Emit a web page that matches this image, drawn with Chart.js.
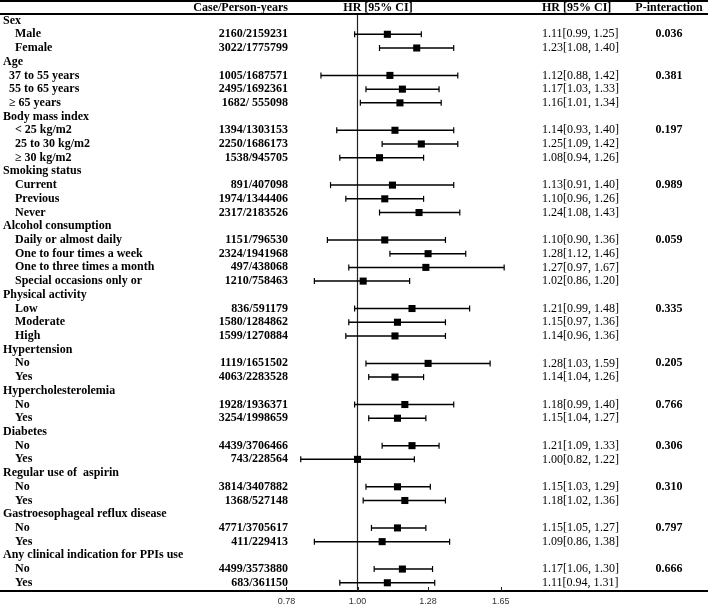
<!DOCTYPE html>
<html>
<head>
<meta charset="utf-8">
<script src="https://cdn.jsdelivr.net/npm/chart.js"></script>
<style>
  body { margin: 0; background: #fff; }
  #wrap { width: 708px; height: 607px; }
</style>
</head>
<body>
<div id="wrap"><canvas id="forest" width="708" height="607"></canvas></div>
<script>
// rows of the table, group headers have no estimate
const labels = [
  "Sex", "    Male", "    Female",
  "Age", "  37 to 55 years", "  55 to 65 years", "  \u2265 65 years",
  "Body mass index", "    < 25 kg/m2", "    25 to 30 kg/m2", "    \u2265 30 kg/m2",
  "Smoking status", "    Current", "    Previous", "    Never",
  "Alcohol consumption", "    Daily or almost daily", "    One to four times a week", "    One to three times a month", "    Special occasions only or",
  "Physical activity", "    Low", "    Moderate", "    High",
  "Hypertension", "    No", "    Yes",
  "Hypercholesterolemia", "    No", "    Yes",
  "Diabetes", "    No", "    Yes",
  "Regular use of  aspirin", "    No", "    Yes",
  "Gastroesophageal reflux disease", "    No", "    Yes",
  "Any clinical indication for PPIs use", "    No", "    Yes"
];
const cases = [
  "", "2160/2159231", "3022/1775799",
  "", "1005/1687571", "2495/1692361", "1682/ 555098",
  "", "1394/1303153", "2250/1686173", "1538/945705",
  "", "891/407098", "1974/1344406", "2317/2183526",
  "", "1151/796530", "2324/1941968", "497/438068", "1210/758463",
  "", "836/591179", "1580/1284862", "1599/1270884",
  "", "1119/1651502", "4063/2283528",
  "", "1928/1936371", "3254/1998659",
  "", "4439/3706466", "743/228564",
  "", "3814/3407882", "1368/527148",
  "", "4771/3705617", "411/229413",
  "", "4499/3573880", "683/361150"
];
const hr = [
  null, 1.11, 1.23,
  null, 1.12, 1.17, 1.16,
  null, 1.14, 1.25, 1.08,
  null, 1.13, 1.10, 1.24,
  null, 1.10, 1.28, 1.27, 1.02,
  null, 1.21, 1.15, 1.14,
  null, 1.28, 1.14,
  null, 1.18, 1.15,
  null, 1.21, 1.00,
  null, 1.15, 1.18,
  null, 1.15, 1.09,
  null, 1.17, 1.11
];
const lower = [
  null, 0.99, 1.08,
  null, 0.88, 1.03, 1.01,
  null, 0.93, 1.09, 0.94,
  null, 0.91, 0.96, 1.08,
  null, 0.90, 1.12, 0.97, 0.86,
  null, 0.99, 0.97, 0.96,
  null, 1.03, 1.04,
  null, 0.99, 1.04,
  null, 1.09, 0.82,
  null, 1.03, 1.02,
  null, 1.05, 0.86,
  null, 1.06, 0.94
];
const upper = [
  null, 1.25, 1.40,
  null, 1.42, 1.33, 1.34,
  null, 1.40, 1.42, 1.26,
  null, 1.40, 1.26, 1.43,
  null, 1.36, 1.46, 1.67, 1.20,
  null, 1.48, 1.36, 1.36,
  null, 1.59, 1.26,
  null, 1.40, 1.27,
  null, 1.33, 1.22,
  null, 1.29, 1.36,
  null, 1.27, 1.38,
  null, 1.30, 1.31
];
// one p-interaction per group, in group order
const pInteraction = ["0.036", "0.381", "0.197", "0.989", "0.059", "0.335", "0.205", "0.766", "0.306", "0.310", "0.797", "0.666"];
const tickValues = [0.78, 1.00, 1.28, 1.65];

const serif = "'Liberation Serif', 'Times New Roman', serif";

// CI line per row
const ciSets = [];
const caps = [];
const points = [];
hr.forEach((v, i) => {
  if (v == null) return;
  ciSets.push({
    data: [{x: lower[i], y: i}, {x: upper[i], y: i}],
    showLine: true,
    borderColor: '#000',
    borderWidth: 1.5,
    pointRadius: 0
  });
  caps.push({x: lower[i], y: i}, {x: upper[i], y: i});
  points.push({x: v, y: i});
});

const tablePlugin = {
  id: 'forestTable',
  beforeDatasetsDraw(chart) {
    const {ctx, chartArea, scales: {x, y}} = chart;
    const x1 = x.getPixelForValue(1);
    ctx.save();
    ctx.strokeStyle = '#222';
    ctx.lineWidth = 1.2;
    ctx.beginPath();
    ctx.moveTo(x1, y.getPixelForValue(-0.5));
    ctx.lineTo(x1, chartArea.bottom);
    ctx.stroke();
    // small upward ticks on the axis
    ctx.lineWidth = 1;
    tickValues.forEach(t => {
      const px = Math.round(x.getPixelForValue(t)) + 0.5;
      ctx.beginPath();
      ctx.moveTo(px, chartArea.bottom - 4);
      ctx.lineTo(px, chartArea.bottom);
      ctx.stroke();
    });
    ctx.restore();
  },
  afterDraw(chart) {
    const {ctx, scales: {x, y}} = chart;
    const W = chart.width;
    ctx.save();
    ctx.fillStyle = '#000';
    // table rules
    ctx.fillRect(0, 0, W, 2);
    const hy = y.getPixelForValue(-0.5);
    ctx.fillRect(0, Math.round(hy) - 1, W, 2);

    ctx.textBaseline = 'middle';
    const headY = y.getPixelForValue(-1) + 1.5;
    ctx.font = 'bold 12px ' + serif;
    ctx.textAlign = 'right';
    ctx.fillText('Case/Person-years', 288, headY);
    ctx.textAlign = 'center';
    ctx.fillText('HR [95% CI]', 378, headY);
    ctx.textAlign = 'left';
    ctx.fillText('HR [95% CI]', 542, headY);
    ctx.textAlign = 'center';
    ctx.fillText('P-interaction', 669, headY);

    let g = 0;
    labels.forEach((lab, i) => {
      const py = y.getPixelForValue(i);
      ctx.font = 'bold 12px ' + serif;
      ctx.textAlign = 'left';
      ctx.fillText(lab, 3, py);
      ctx.textAlign = 'right';
      ctx.fillText(cases[i], 288, py);
      if (hr[i] == null) {
        // p value sits on the first row of the group
        ctx.textAlign = 'center';
        ctx.fillText(pInteraction[g], 669, y.getPixelForValue(i + 1));
        g++;
        return;
      }
      ctx.font = '12px ' + serif;
      ctx.textAlign = 'left';
      ctx.fillText(hr[i].toFixed(2) + '[' + lower[i].toFixed(2) + ', ' + upper[i].toFixed(2) + ']', 542, py);
    });
    ctx.restore();
  }
};

new Chart(document.getElementById('forest'), {
  type: 'scatter',
  data: {
    datasets: [
      ...ciSets,
      {
        data: caps,
        pointStyle: 'line',
        rotation: 90,
        pointRadius: 3,
        borderColor: '#000',
        borderWidth: 1.2
      },
      {
        data: points,
        pointStyle: 'rect',
        pointRadius: 5,
        backgroundColor: '#000',
        borderColor: '#000',
        borderWidth: 0
      }
    ]
  },
  options: {
    responsive: false,
    animation: false,
    devicePixelRatio: 1,
    layout: { autoPadding: false, padding: 0 },
    plugins: { legend: { display: false }, tooltip: { enabled: false } },
    scales: {
      x: {
        type: 'logarithmic',
        min: 0.2865,
        max: 3.406,
        afterBuildTicks: scale => {
          scale.ticks = tickValues.map(v => ({value: v}));
        },
        afterFit: scale => {
          scale.height = 16;
        },
        ticks: {
          autoSkip: false,
          maxRotation: 0,
          padding: 5,
          color: '#333',
          font: { family: "'Liberation Sans', Arial, sans-serif", size: 9 },
          callback: v => Number(v).toFixed(2)
        },
        grid: { display: false, drawTicks: false },
        border: { display: true, color: '#000', width: 2 }
      },
      y: {
        display: false,
        reverse: true,
        min: -1.5,
        max: 41.6
      }
    }
  },
  plugins: [tablePlugin]
});
</script>
</body>
</html>
